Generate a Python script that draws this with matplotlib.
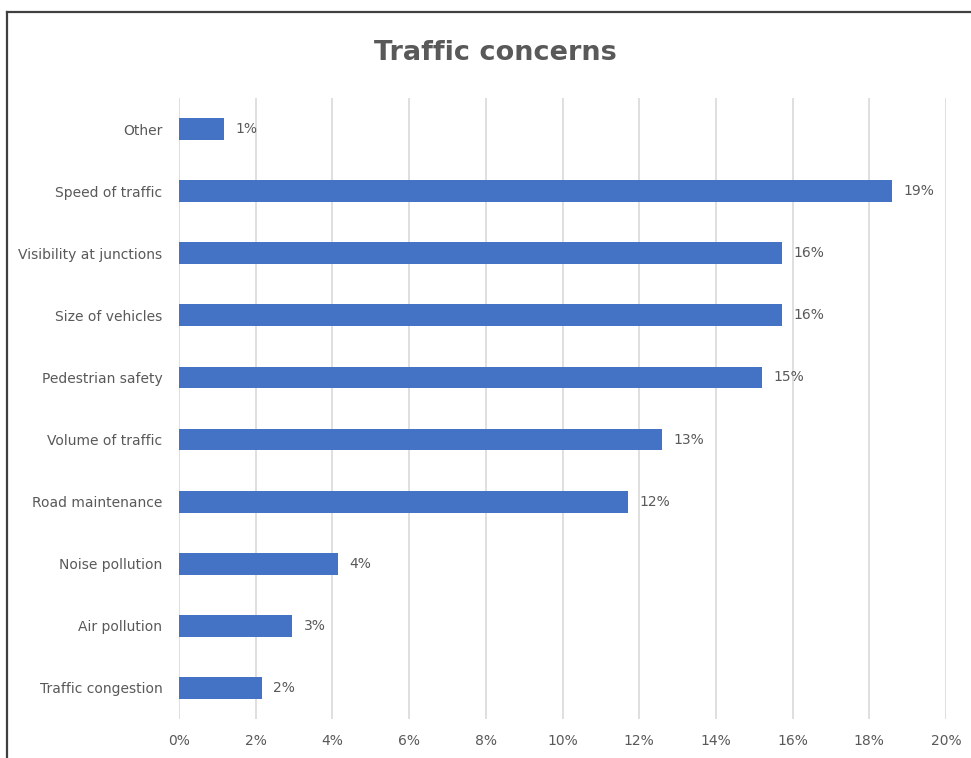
import matplotlib.pyplot as plt
from matplotlib.lines import Line2D
from matplotlib.ticker import FuncFormatter

# data, bottom to top as drawn
categories = ['Traffic congestion', 'Air pollution', 'Noise pollution', 'Road maintenance',
              'Volume of traffic', 'Pedestrian safety', 'Size of vehicles',
              'Visibility at junctions', 'Speed of traffic', 'Other']
values = [2.16, 2.95, 4.15, 11.71, 12.6, 15.2, 15.72, 15.72, 18.59, 1.17]
x_ticks = [0, 2, 4, 6, 8, 10, 12, 14, 16, 18, 20]

BAR = '#4472C4'
TEXT = '#595959'
GRID = '#D9D9D9'
FONT = ['Liberation Sans Narrow', 'DejaVu Sans']

plt.rcParams['font.family'] = FONT

fig = plt.figure(figsize=(9.71, 7.58), dpi=100)
W, H = 971, 758

# chart frame (cut off at right and bottom like the screenshot)
fig.add_artist(Line2D([7 / W, 7 / W], [0, 1 - 12 / H], color='#404040', lw=1.6))
fig.add_artist(Line2D([7 / W, 1], [1 - 12 / H, 1 - 12 / H], color='#404040', lw=1.6))

ax = fig.add_axes([179 / W, 1 - 719 / H, (946 - 179) / W, (719 - 98) / H])
ypos = range(len(categories))
ax.barh(ypos, values, height=0.35, color=BAR, zorder=3)

for y, v in zip(ypos, values):
    ax.text(v + 0.3, y, f'{round(v)}%', va='center', ha='left',
            color=TEXT, fontsize=10)

ax.set_xlim(0, 20)
ax.set_ylim(-0.5, len(categories) - 0.5)
ax.set_xticks(x_ticks)
ax.xaxis.set_major_formatter(FuncFormatter(lambda v, p: f'{v:.0f}%'))
ax.set_yticks(list(ypos))
ax.set_yticklabels(categories)
ax.tick_params(axis='both', length=0, colors=TEXT, labelsize=10)
ax.tick_params(axis='x', pad=11)
ax.tick_params(axis='y', pad=12)
ax.grid(axis='x', color=GRID, lw=1.2, zorder=0)
for s in ax.spines.values():
    s.set_visible(False)

fig.text(495 / W, 1 - 53 / H, 'Traffic concerns', ha='center', va='center',
         fontsize=19.5, fontweight='bold', color=TEXT)

fig.savefig('out.png', dpi=100, facecolor='white')
